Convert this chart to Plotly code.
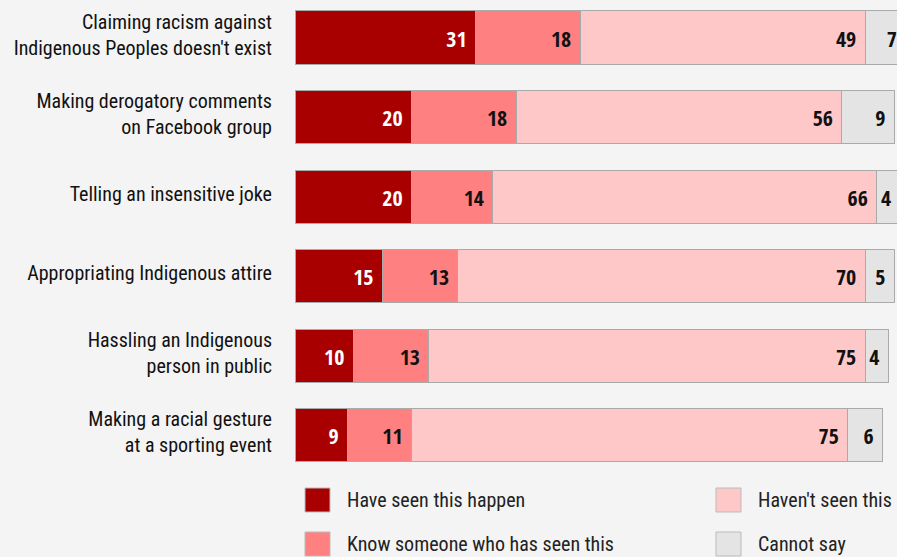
import plotly.graph_objects as go

categories = [
    "Claiming racism against<br>Indigenous Peoples doesn't exist",
    "Making derogatory comments<br>on Facebook group",
    "Telling an insensitive joke",
    "Appropriating Indigenous attire",
    "Hassling an Indigenous<br>person in public",
    "Making a racial gesture<br>at a sporting event",
]
series_names = ["Have seen this happen", "Know someone who has seen this",
                "Haven't seen this", "Cannot say"]
have_seen = [31, 20, 20, 15, 10, 9]
know_someone = [18, 18, 14, 13, 13, 11]
havent_seen = [49, 56, 66, 70, 75, 75]
cannot_say = [7, 9, 4, 5, 4, 6]
values = [have_seen, know_someone, havent_seen, cannot_say]
colors = ["#a80000", "#ff8080", "#ffc8c8", "#e4e4e4"]
text_colors = ["#ffffff", "#111111", "#111111", "#111111"]

FONT = "Roboto Condensed, DejaVu Sans Condensed, sans-serif"
NUMFONT = "Open Sans Condensed, Roboto Condensed, sans-serif"

W, H = 897, 557
L, R, T, B = 295, 0, 0, 80
PW, PH = W - L - R, H - T - B

fig = go.Figure()
for name, vals, col, tcol in zip(series_names, values, colors, text_colors):
    fig.add_trace(go.Bar(
        y=categories, x=vals, orientation="h", name=name,
        marker=dict(color=col, line=dict(color="#aaaaaa", width=1)),
        text=[str(v) + "\u00a0" for v in vals], textposition="inside",
        insidetextanchor="end", constraintext="none",
        textfont=dict(family=NUMFONT, size=22, color=tcol, weight="bold"),
        showlegend=False, hoverinfo="skip",
    ))

# manual legend (two columns, two rows)
leg_pos = [(305, 500), (305, 544), (716, 500), (716, 544)]
for (px, py), name, col in zip(leg_pos, series_names, colors):
    fig.add_shape(type="rect", xref="paper", yref="paper",
                  x0=(px - L) / PW, x1=(px + 25 - L) / PW,
                  y0=(PH - (py + 12)) / PH, y1=(PH - (py - 12)) / PH,
                  fillcolor=col, line=dict(color="#bbbbbb", width=1))
    fig.add_annotation(xref="paper", yref="paper",
                       x=(px + 40 - L) / PW, y=(PH - py) / PH,
                       text=name, showarrow=False, xanchor="left", yanchor="middle",
                       font=dict(family=FONT, size=20, color="#222222"))

fig.update_layout(
    width=W, height=H, barmode="stack", bargap=0.333,
    paper_bgcolor="#f4f4f4", plot_bgcolor="#f4f4f4",
    margin=dict(l=L, r=R, t=T, b=B, autoexpand=False),
    xaxis=dict(range=[0, 103.5], visible=False, fixedrange=True),
    yaxis=dict(categoryorder="array", categoryarray=categories,
               range=[5.528, -0.4717], showgrid=False, zeroline=False,
               showline=False, ticks="", ticklabelstandoff=22, automargin=False,
               ticklabelshift=3, fixedrange=True,
               tickfont=dict(family=FONT, size=20, color="#111111")),
)
fig.write_html("out.html", config={"displayModeBar": False},
               post_script="document.body.style.margin='0';document.body.style.overflow='hidden';")
